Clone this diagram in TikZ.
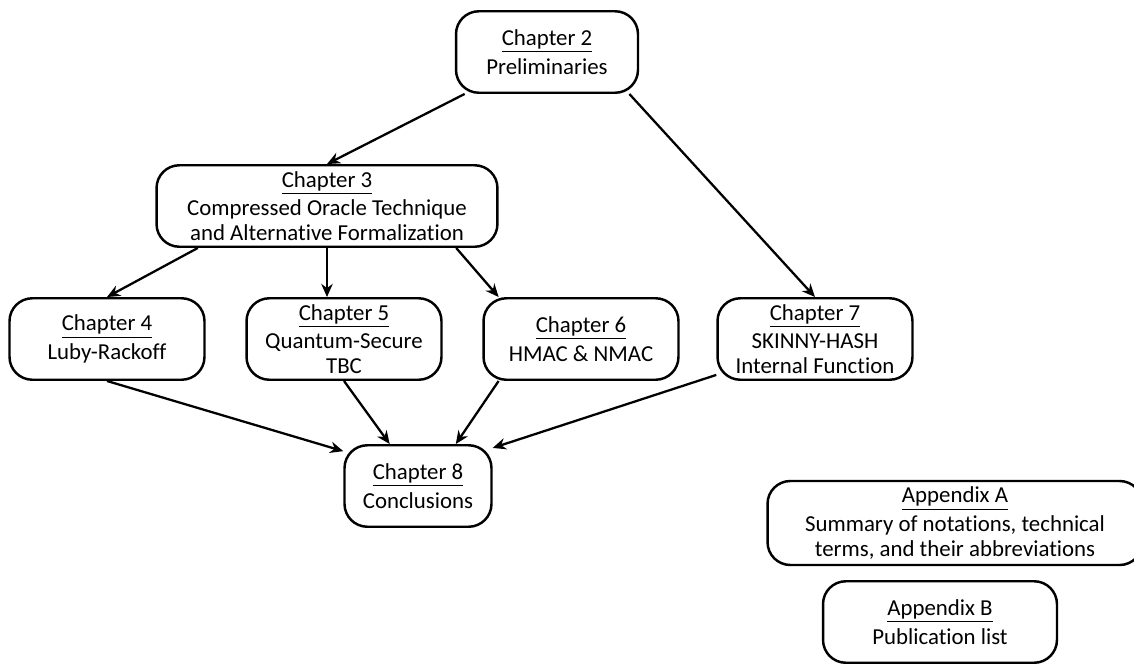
\documentclass[tikz,border=0pt]{standalone}
\usepackage{fontspec}
\setmainfont{Carlito}[Ligatures=NoCommon]
\usetikzlibrary{arrows.meta}

\begin{document}
\begin{tikzpicture}[x=0.02cm,y=-0.02cm,>={Stealth[length=7.5pt,width=6.5pt]},
  font=\fontsize{13}{14.2}\selectfont,
  chap/.style={draw,line width=1.4pt,rounded corners=13pt,align=center,inner sep=0pt,minimum height=1.63cm},
  link/.style={->,line width=1.3pt}]
\useasboundingbox (0,0) rectangle (1134,664);
\node[chap,minimum width=3.64cm] (ch2) at (547,52) {\underline{Chapter 2}\\[2pt]Preliminaries};
\node[chap,minimum width=6.82cm] (ch3) at (327,206) {\underline{Chapter 3}\\[2pt]Compressed Oracle Technique\\and Alternative Formalization};
\node[chap,minimum width=3.9cm] (ch4) at (107,339) {\underline{Chapter 4}\\[2pt]Luby-Rackoff};
\node[chap,minimum width=3.9cm] (ch5) at (344,339) {\underline{Chapter 5}\\[2pt]Quantum-Secure\\TBC};
\node[chap,minimum width=3.9cm] (ch6) at (581,339) {\underline{Chapter 6}\\[2pt]HMAC \& NMAC};
\node[chap,minimum width=3.9cm] (ch7) at (815,339) {\underline{Chapter 7}\\[2pt]SKINNY-HASH\\Internal Function};
\node[chap,minimum width=2.94cm] (ch8) at (418,486) {\underline{Chapter 8}\\[2pt]Conclusions};
\node[chap,minimum width=7.5cm,minimum height=1.68cm] (appa) at (955,523) {\underline{Appendix A}\\[2pt]Summary of notations, technical\\terms, and their abbreviations};
\node[chap,minimum width=4.68cm] (appb) at (940,622) {\underline{Appendix B}\\[2pt]Publication list};
\draw[link] (ch2.207) -- (ch3.north);
\draw[link] (ch2.333) -- (ch7.north);
\draw[link] (ch3.198) -- (ch4.north);
\draw[link] (ch3.south) -- (ch3.south |- ch5.north);
\draw[link] (ch3.342) -- (ch6.153);
\draw[link] (ch4.south) -- (ch8.155);
\draw[link] (ch5.south) -- (ch8.124);
\draw[link] (ch6.207) -- (ch8.48);
\draw[link] (ch7.200) -- (ch8.27);
\end{tikzpicture}
\end{document}
